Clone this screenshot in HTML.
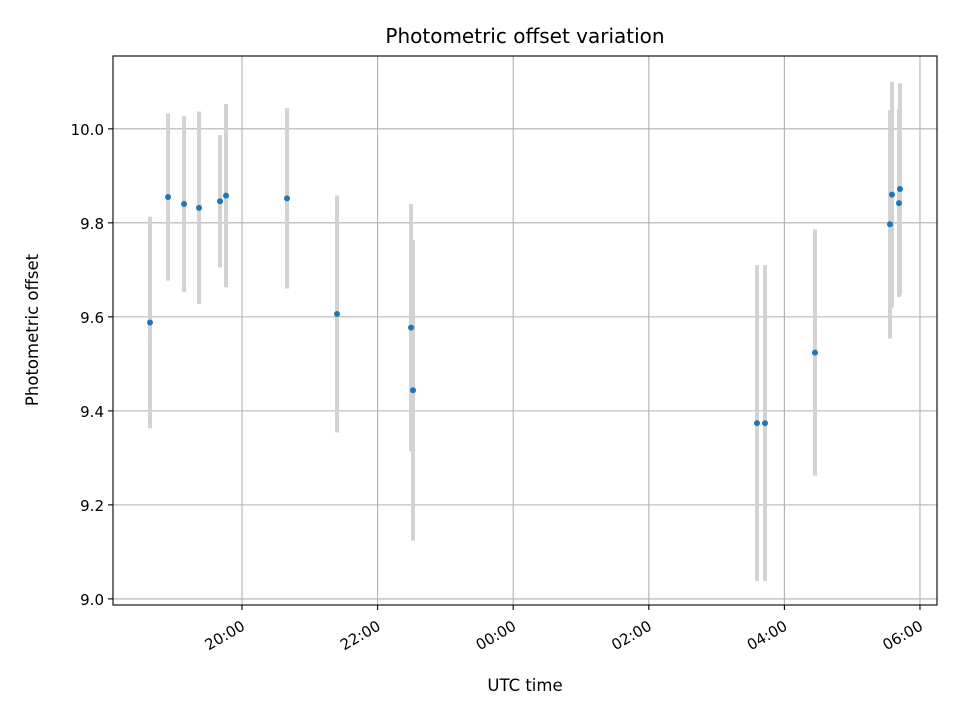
<!DOCTYPE html>
<html><head><meta charset="utf-8"><style>
body{margin:0;background:#fff}
svg{display:block;font-family:"DejaVu Sans","Liberation Sans",sans-serif}
</style></head><body>
<svg id="chart" width="960" height="720" viewBox="0 0 960 720">
<rect x="0" y="0" width="960" height="720" fill="#fff"/>
<g id="grid"></g>
<g id="errs"></g>
<g id="pts"></g>
<rect x="113" y="56" width="824" height="549" fill="none" stroke="#000" stroke-width="1.1"/>
<g id="ticks"></g>
<text x="525" y="43" text-anchor="middle" font-size="20" fill="#000">Photometric offset variation</text>
<text x="525" y="691" text-anchor="middle" font-size="16.5" fill="#000">UTC time</text>
<text x="38" y="330" text-anchor="middle" font-size="16.5" fill="#000" transform="rotate(-90 38 330)">Photometric offset</text>
</svg>
<script>
const times = [18.643,18.909,19.145,19.366,19.676,19.764,20.664,21.401,22.493,22.522,27.596,27.714,28.451,29.558,29.587,29.690,29.705];
const offsets = [9.588,9.855,9.840,9.832,9.846,9.858,9.852,9.606,9.577,9.444,9.374,9.374,9.524,9.797,9.860,9.842,9.872];
const errors = [0.225,0.178,0.187,0.205,0.141,0.195,0.192,0.252,0.263,0.320,0.336,0.336,0.262,0.243,0.240,0.200,0.225];
const xTickHours = [20,22,24,26,28,30];
const xTickLabels = ["20:00","22:00","00:00","02:00","04:00","06:00"];
const yTicks = [9.0,9.2,9.4,9.6,9.8,10.0];

const NS="http://www.w3.org/2000/svg";
const L=113,R=937,T=56,B=605;
const xMin=18.097,xMax=30.251,yMin=8.987,yMax=10.155;
function xs(h){return L+(h-xMin)/(xMax-xMin)*(R-L);}
function ys(v){return B-(v-yMin)/(yMax-yMin)*(B-T);}
function mk(tag,attrs,parent){const e=document.createElementNS(NS,tag);for(const k in attrs)e.setAttribute(k,attrs[k]);parent.appendChild(e);return e;}
const grid=document.getElementById('grid'),ticks=document.getElementById('ticks'),errs=document.getElementById('errs'),pts=document.getElementById('pts');

xTickHours.forEach((h,i)=>{
  const x=xs(h);
  const g=mk('line',{x1:x,x2:x,y1:T,y2:B,stroke:'#b0b0b0','stroke-width':1.1},grid);
  
  
  const t=mk('line',{x1:x,x2:x,y1:B,y2:B+5,stroke:'#000','stroke-width':1.1},ticks);
  
  
  const ax=x+4, ay=B+24;
  const lb=mk('text',{x:ax,y:ay,'text-anchor':'end','font-size':15,fill:'#000',transform:`rotate(-30 ${ax} ${ay})`},ticks);
  lb.textContent=xTickLabels[i];
  
  
});
yTicks.forEach(v=>{
  const y=ys(v);
  const g=mk('line',{x1:L,x2:R,y1:y,y2:y,stroke:'#b0b0b0','stroke-width':1.1},grid);
  
  
  const t=mk('line',{x1:L-5,x2:L,y1:y,y2:y,stroke:'#000','stroke-width':1.1},ticks);
  
  
  const lb=mk('text',{x:L-9,y:y+6,'text-anchor':'end','font-size':15,fill:'#000'},ticks);
  lb.textContent=v.toFixed(1);
  
  
});
times.forEach((h,i)=>{
  const x=xs(h);
  const e=mk('line',{x1:x,x2:x,y1:ys(offsets[i]+errors[i]),y2:ys(offsets[i]-errors[i]),stroke:'#d3d3d3','stroke-width':4},errs);
  
  
  const c=mk('circle',{cx:x,cy:ys(offsets[i]),r:3,fill:'#1f77b4'},pts);
  
  
});
</script>
</body></html>
